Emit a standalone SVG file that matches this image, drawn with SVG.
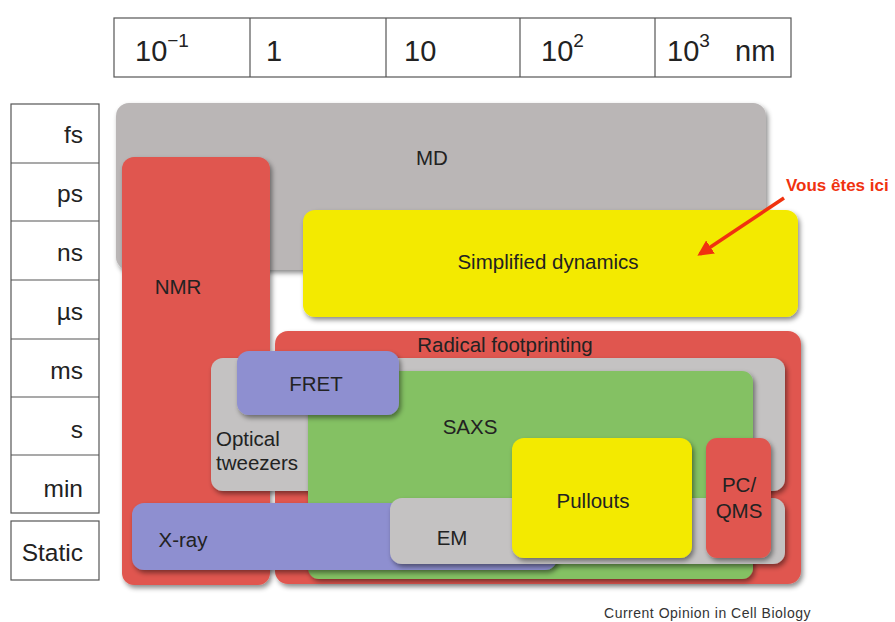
<svg xmlns="http://www.w3.org/2000/svg" width="895" height="622" viewBox="0 0 895 622">
<defs>
<style>
text{font-family:"Liberation Sans",Arial,sans-serif;fill:#222}
.hdr{font-size:29px}
.sup{font-size:19px}
.row{font-size:24.5px;text-anchor:end}
.lbl{font-size:20.5px;text-anchor:middle}
.grid{fill:#fff;stroke:#555;stroke-width:1.2}
.box{filter:url(#sh)}
</style>
<filter id="sh" x="-10%" y="-10%" width="125%" height="125%">
<feDropShadow dx="2" dy="3" stdDeviation="2.5" flood-color="#000" flood-opacity="0.45"/>
</filter>
<marker id="ah" viewBox="0 0 10 10" refX="8" refY="5" markerWidth="4.5" markerHeight="4.5" orient="auto">
<path d="M0,0 L10,5 L0,10 z" fill="#f0320f"/>
</marker>
</defs>
<rect width="895" height="622" fill="#fff"/>

<g id="header">
<rect class="grid" x="114" y="18" width="677" height="59"/>
<line x1="250" y1="18" x2="250" y2="77" stroke="#555" stroke-width="1.2"/>
<line x1="386" y1="18" x2="386" y2="77" stroke="#555" stroke-width="1.2"/>
<line x1="520" y1="18" x2="520" y2="77" stroke="#555" stroke-width="1.2"/>
<line x1="655" y1="18" x2="655" y2="77" stroke="#555" stroke-width="1.2"/>
<text class="hdr" x="135" y="61">10<tspan class="sup" dy="-14">−1</tspan></text>
<text class="hdr" x="266" y="61">1</text>
<text class="hdr" x="404" y="61">10</text>
<text class="hdr" x="541" y="61">10<tspan class="sup" dy="-14">2</tspan></text>
<text class="hdr" x="667" y="61">10<tspan class="sup" dy="-14">3</tspan></text>
<text class="hdr" x="735" y="61">nm</text>
</g>

<g id="timescale">
<rect class="grid" x="11" y="104" width="88" height="409"/>
<line x1="11" y1="163" x2="99" y2="163" stroke="#555" stroke-width="1.2"/>
<line x1="11" y1="221" x2="99" y2="221" stroke="#555" stroke-width="1.2"/>
<line x1="11" y1="280" x2="99" y2="280" stroke="#555" stroke-width="1.2"/>
<line x1="11" y1="339" x2="99" y2="339" stroke="#555" stroke-width="1.2"/>
<line x1="11" y1="397" x2="99" y2="397" stroke="#555" stroke-width="1.2"/>
<line x1="11" y1="455" x2="99" y2="455" stroke="#555" stroke-width="1.2"/>
<rect class="grid" x="11" y="521" width="88" height="59"/>
<text class="row" x="83" y="143">fs</text>
<text class="row" x="83" y="202">ps</text>
<text class="row" x="83" y="261">ns</text>
<text class="row" x="83" y="320">µs</text>
<text class="row" x="83" y="379">ms</text>
<text class="row" x="83" y="438">s</text>
<text class="row" x="83" y="497">min</text>
<text class="row" x="83" y="561">Static</text>
</g>

<g id="md"><rect class="box" x="116" y="103" width="650" height="167" rx="13" fill="#bab6b6"/>
<text class="lbl" x="432" y="165">MD</text></g>

<g id="nmr"><rect class="box" x="122" y="157" width="148" height="428" rx="12" fill="#e0574f"/>
<text class="lbl" x="178" y="294">NMR</text></g>

<g id="simplified"><rect class="box" x="303" y="210" width="495" height="107" rx="12" fill="#f3ea00"/>
<text class="lbl" x="548" y="269">Simplified dynamics</text></g>

<g id="radical"><rect class="box" x="275" y="331" width="526" height="253" rx="13" fill="#e0574f"/>
<text class="lbl" x="505" y="352">Radical footprinting</text></g>

<g id="optical"><rect class="box" x="211" y="358" width="574" height="133" rx="12" fill="#c4c2c2"/>
<text x="216" y="446" style="font-size:20.5px">Optical</text>
<text x="216" y="470" style="font-size:20.5px">tweezers</text></g>

<g id="saxs"><rect class="box" x="308" y="371" width="445" height="208" rx="11" fill="#84c163"/>
<text class="lbl" x="470" y="434">SAXS</text></g>

<g id="fret"><rect class="box" x="237" y="351" width="162" height="64" rx="12" fill="#8e8fd0"/>
<text class="lbl" x="316" y="391">FRET</text></g>

<g id="xray"><rect class="box" x="132" y="503" width="425" height="67" rx="12" fill="#8e8fd0"/>
<text class="lbl" x="183" y="547">X-ray</text></g>

<g id="em"><rect class="box" x="390" y="498" width="395" height="66" rx="12" fill="#c4c2c2"/>
<text class="lbl" x="452" y="545">EM</text></g>

<g id="pullouts"><rect class="box" x="512" y="438" width="180" height="120" rx="12" fill="#f3ea00"/>
<text class="lbl" x="593" y="508">Pullouts</text></g>

<g id="pcqms"><rect class="box" x="706" y="438" width="65" height="120" rx="11" fill="#e0574f"/>
<text class="lbl" x="739" y="492">PC/</text>
<text class="lbl" x="739" y="518">QMS</text></g>

<g id="annotation">
<text x="786" y="191" style="font-size:17px;font-weight:bold;fill:#f0320f">Vous êtes ici</text>
</g>
<g id="connectors">
<line x1="784" y1="198" x2="700" y2="254" stroke="#f0320f" stroke-width="3.5" marker-end="url(#ah)"/>
</g>

<text x="811" y="618" style="font-size:14px;letter-spacing:0.5px;fill:#333;text-anchor:end">Current Opinion in Cell Biology</text>
</svg>
